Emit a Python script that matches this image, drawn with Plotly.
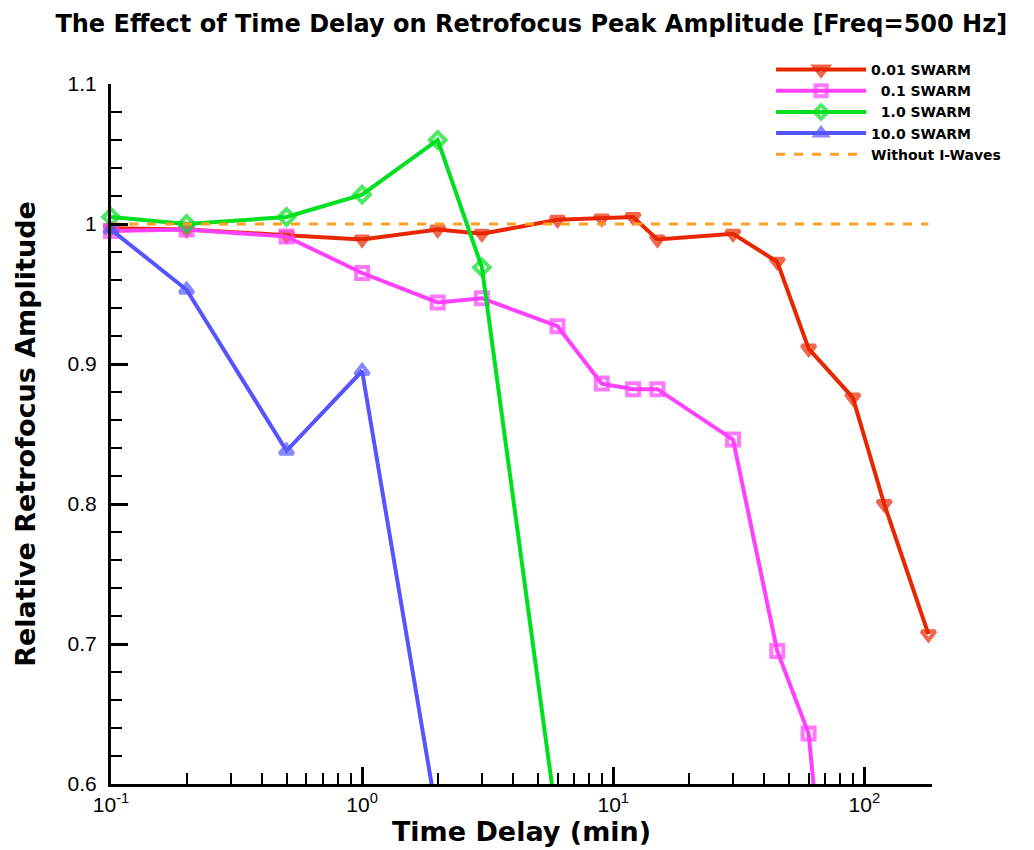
import numpy as np
import plotly.graph_objects as go

# time delay (min) and relative retrofocus amplitude
delay_001 = [0.1, 0.2, 0.5, 1, 2, 3, 6, 9, 12, 15, 30, 45, 60, 90, 120, 180]
amp_001 = [0.997, 0.996, 0.992, 0.989, 0.996, 0.993, 1.003, 1.004, 1.005, 0.989,
           0.993, 0.973, 0.911, 0.876, 0.800, 0.707]

delay_01 = [0.1, 0.2, 0.5, 1, 2, 3, 6, 9, 12, 15, 30, 45, 60, 90]
amp_01 = [0.995, 0.996, 0.991, 0.965, 0.944, 0.947, 0.927, 0.886, 0.882, 0.882,
          0.846, 0.695, 0.636, 0.31]

delay_1 = [0.1, 0.2, 0.5, 1, 2, 3, 6]
amp_1 = [1.005, 1.0, 1.005, 1.021, 1.060, 0.969, 0.57]

delay_10 = [0.1, 0.2, 0.5, 1, 2]
amp_10 = [0.996, 0.953, 0.838, 0.895, 0.574]

baseline_delay = [0.1, 180]
baseline_amp = [1.0, 1.0]

y_min, y_max = 0.6, 1.1
x_tickvals = [0.1, 1, 10, 100]
x_ticktext = ["10<sup>-1</sup>", "10<sup>0</sup>", "10<sup>1</sup>", "10<sup>2</sup>"]
x_minor = [m * d for d in (0.1, 1, 10, 100) for m in range(2, 10) if m * d <= 186]
y_tickvals = [0.6, 0.7, 0.8, 0.9, 1.0, 1.1]
y_ticktext = ["0.6", "0.7", "0.8", "0.9", "1", "1.1"]

series = [
    ("0.01 SWARM", delay_001, amp_001, "rgb(232,38,0)", "triangle-down-open"),
    ("&nbsp;&nbsp;0.1 SWARM", delay_01, amp_01, "rgb(255,64,255)", "square-open"),
    ("&nbsp;&nbsp;1.0 SWARM", delay_1, amp_1, "rgb(0,224,32)", "diamond-open"),
    ("10.0 SWARM", delay_10, amp_10, "rgb(85,85,255)", "triangle-up-open"),
]

fig = go.Figure()
for name, xs, ys, col, sym in series:
    # hide markers that fall below the visible range (lines are still clipped)
    sizes = [12 if v >= y_min else 0 for v in ys]
    fig.add_trace(go.Scatter(
        x=xs, y=ys, name=name, mode="lines+markers", cliponaxis=False,
        line=dict(color=col, width=4),
        marker=dict(symbol=sym, size=sizes, color=col, line=dict(color=col, width=4)),
    ))

fig.add_trace(go.Scatter(
    x=baseline_delay, y=baseline_amp, name="Without I-Waves", mode="lines",
    line=dict(color="rgb(255,160,32)", width=3, dash="dash"),
))

font = "Liberation Sans, Arial, Helvetica, sans-serif"
bold = "DejaVu Sans, sans-serif"
fig.update_layout(
    width=1026, height=842,
    template="plotly_white",
    plot_bgcolor="white", paper_bgcolor="white",
    margin=dict(l=103, r=102, t=76, b=66),
    font=dict(family=font, color="black"),
    title=dict(text="<b>The Effect of Time Delay on Retrofocus Peak Amplitude [Freq=500 Hz]</b>",
               x=0.51, xanchor="center", y=0.982, yanchor="middle",
               font=dict(size=24, family=bold)),
    xaxis=dict(type="log", range=[-1, np.log10(186)],
               tickvals=x_tickvals, ticktext=x_ticktext,
               ticks="inside", ticklen=17, tickwidth=3, tickcolor="black",
               minor=dict(tickvals=x_minor, ticks="inside", ticklen=11, tickwidth=2,
                          tickcolor="black", showgrid=False),
               showline=True, linecolor="black", linewidth=3, mirror=False,
               showgrid=False, zeroline=False,
               tickfont=dict(size=21),
               title=dict(text="<b>Time Delay (min)</b>", font=dict(size=27, family=bold), standoff=2)),
    yaxis=dict(range=[y_min, y_max],
               tickvals=y_tickvals, ticktext=y_ticktext,
               ticks="inside", ticklen=17, tickwidth=3, tickcolor="black",
               minor=dict(dtick=0.02, ticks="inside", ticklen=11, tickwidth=2,
                          tickcolor="black", showgrid=False),
               showline=True, linecolor="black", linewidth=3, mirror=False,
               showgrid=False, zeroline=False,
               tickfont=dict(size=21), ticklabelstandoff=7,
               title=dict(text="<b>Relative Retrofocus Amplitude</b>",
                          font=dict(size=27, family=bold), standoff=25)),
    legend=dict(x=0.804, y=1.043, xanchor="left", yanchor="top",
                bgcolor="rgba(0,0,0,0)", font=dict(size=14, family=bold, weight="bold"),
                itemwidth=90, tracegroupgap=0),
    showlegend=True,
)

fig.write_html("out.html")
